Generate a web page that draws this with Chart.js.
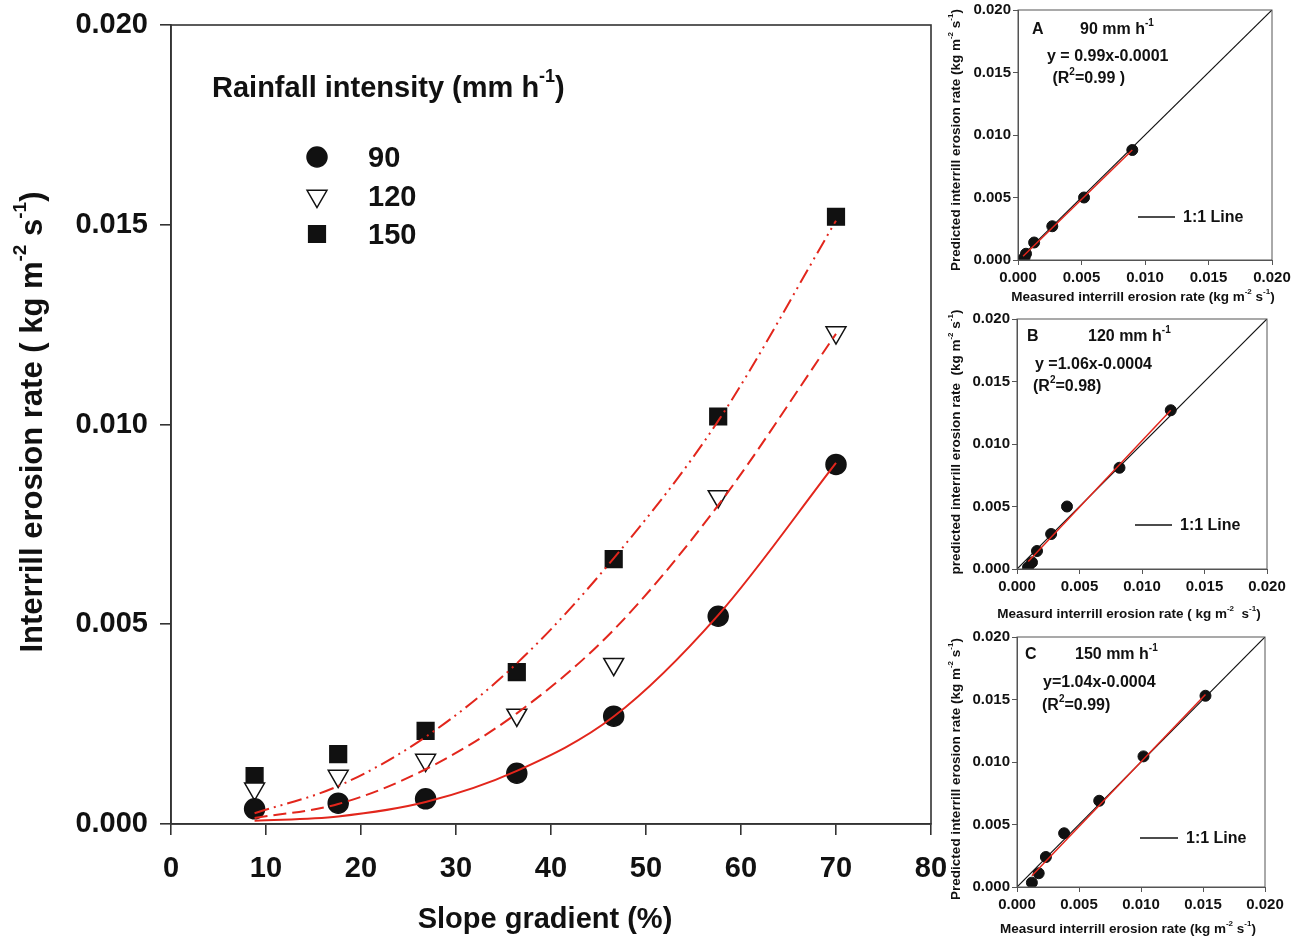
<!DOCTYPE html>
<html>
<head>
<meta charset="utf-8">
<title>Interrill erosion rate vs slope gradient</title>
<script src="https://cdn.jsdelivr.net/npm/chart.js@4.4.1/dist/chart.umd.min.js"></script>
<style>
    body { margin: 0; background: #fff; }
    #figure { position: relative; width: 1295px; height: 939px; overflow: hidden; background: #fff; }
    #figure canvas { position: absolute; }
</style>
</head>
<body>
<div id="figure">
    <canvas id="mainChart" width="950" height="939" style="left:0;top:0"></canvas>
    <canvas id="chartA" width="355" height="310" style="left:940px;top:0"></canvas>
    <canvas id="chartB" width="355" height="315" style="left:940px;top:310px"></canvas>
    <canvas id="chartC" width="355" height="314" style="left:940px;top:625px"></canvas>
</div>
<script>
// ------------------- Data -------------------
const slope = [8.8, 17.6, 26.8, 36.4, 46.6, 57.6, 70];

// measured interrill erosion rate (kg m-2 s-1)
const rate90 = [0.00038, 0.00052, 0.00063, 0.00127, 0.0027, 0.0052, 0.0090];
const rate120 = [0.00088, 0.0012, 0.0016, 0.00273, 0.0040, 0.0082, 0.0123];
const rate150 = [0.0012, 0.00175, 0.00233, 0.0038, 0.00663, 0.0102, 0.0152];

// fitted curves at the same slopes
const fit90 = [0.00008, 0.00019, 0.00055, 0.00133, 0.00269, 0.00523, 0.00904];
const fit120 = [0.00015, 0.0005, 0.00137, 0.00277, 0.00486, 0.00798, 0.01227];
const fit150 = [0.00027, 0.00095, 0.00218, 0.00402, 0.00665, 0.01009, 0.0151];

const slopeTicks = [0, 10, 20, 30, 40, 50, 60, 70, 80];
const rateTicks = [0, 0.005, 0.010, 0.015, 0.020];

// predicted vs measured (panels A, B, C)
const predicted90 = [0.00005, 0.0002, 0.0005, 0.0014, 0.0027, 0.0050, 0.0088];
const predicted120 = [0.00013, 0.00053, 0.00144, 0.0028, 0.0050, 0.0081, 0.0127];
const predicted150 = [0.00035, 0.0011, 0.0024, 0.0043, 0.0069, 0.01045, 0.0153];

const fitLineA = { x: [0.0004, 0.0090], y: [0.0003, 0.0088] };
const fitLineB = { x: [0.0009, 0.0123], y: [0.0006, 0.0127] };
const fitLineC = { x: [0.0012, 0.0152], y: [0.0009, 0.0154] };
const oneToOne = [0, 0.020];

const RED = '#e2261c';
const INK = '#111';
const FONT = 'Arial, "Liberation Sans", sans-serif';

// ------------------- Helpers -------------------
function toXY(xs, ys) {
    return xs.map((x, i) => ({ x: x, y: ys[i] }));
}

// "kg m^{-2}" -> text with superscripts
function richParts(str) {
    const parts = [];
    const re = /\^\{([^}]*)\}/g;
    let last = 0, m;
    while ((m = re.exec(str))) {
        if (m.index > last) parts.push({ t: str.slice(last, m.index), sup: false });
        parts.push({ t: m[1], sup: true });
        last = re.lastIndex;
    }
    if (last < str.length) parts.push({ t: str.slice(last), sup: false });
    return parts;
}

function drawRich(ctx, str, x, y, size, align, angle) {
    const parts = richParts(str);
    const base = `bold ${size}px ${FONT}`;
    const small = `bold ${Math.round(size * 0.62)}px ${FONT}`;
    ctx.save();
    ctx.translate(x, y);
    if (angle) ctx.rotate(angle);
    let w = 0;
    parts.forEach(p => {
        ctx.font = p.sup ? small : base;
        p.w = ctx.measureText(p.t).width;
        w += p.w;
    });
    let cx = align === 'center' ? -w / 2 : (align === 'right' ? -w : 0);
    ctx.textAlign = 'left';
    ctx.textBaseline = 'middle';
    ctx.fillStyle = INK;
    parts.forEach(p => {
        ctx.font = p.sup ? small : base;
        ctx.fillText(p.t, cx, p.sup ? -size * 0.4 : 0);
        cx += p.w;
    });
    ctx.restore();
}

const framePlugin = {
    id: 'frame',
    afterDatasetsDraw(chart, args, opts) {
        const a = chart.chartArea;
        const ctx = chart.ctx;
        ctx.save();
        ctx.strokeStyle = opts.color || '#333';
        ctx.lineWidth = opts.width || 1;
        ctx.strokeRect(a.left, a.top, a.right - a.left, a.bottom - a.top);
        ctx.restore();
    }
};

function axisOptions(min, max, ticks, fmt, size, tickLen, pad, color, lineW) {
    return {
        type: 'linear',
        min: min,
        max: max,
        afterBuildTicks: s => { s.ticks = ticks.map(v => ({ value: v })); },
        ticks: {
            callback: fmt,
            font: { family: FONT, size: size, weight: 'bold' },
            color: INK,
            padding: pad,
            autoSkip: false,
            maxRotation: 0
        },
        grid: { drawOnChartArea: false, drawTicks: true, tickLength: tickLen, color: color, lineWidth: lineW },
        border: { display: true, color: color, width: lineW }
    };
}

// ------------------- Main Chart -------------------
function initMainChart() {
    const ctx = document.getElementById('mainChart');
    const lineBase = { showLine: true, borderColor: RED, borderWidth: 2, pointRadius: 0,
        cubicInterpolationMode: 'monotone', fill: false, order: 0 };
    const pointBase = { showLine: false, borderColor: INK, borderWidth: 1.5, order: 1 };

    const xAxis = axisOptions(0, 80, slopeTicks, v => String(v), 29, 11, 17, '#333', 1.6);
    xAxis.afterFit = s => { s.height = 115; s.paddingLeft = 0; s.paddingRight = 0; };
    const yAxis = axisOptions(0, 0.02, rateTicks, v => v.toFixed(3), 29, 11, 12, '#333', 1.6);
    yAxis.afterFit = s => { s.width = 171; s.paddingTop = 0; s.paddingBottom = 0; };

    const mainText = {
        id: 'mainText',
        afterDraw(chart) {
            const c = chart.ctx;
            drawRich(c, 'Slope gradient (%)', 545, 920, 29, 'center');
            drawRich(c, 'Interrill erosion rate ( kg m^{-2} s^{-1})', 33, 422, 31, 'center', -Math.PI / 2);
            drawRich(c, 'Rainfall intensity (mm h^{-1})', 212, 89, 29, 'left');

            const rows = [157, 196, 234];
            [3, 4, 5].forEach((di, i) => {
                const ds = chart.data.datasets[di];
                c.save();
                c.fillStyle = ds.backgroundColor;
                c.strokeStyle = ds.borderColor;
                c.lineWidth = ds.borderWidth;
                Chart.helpers.drawPoint(c, {
                    pointStyle: ds.pointStyle, rotation: ds.rotation || 0,
                    radius: ds.pointRadius, borderWidth: ds.borderWidth
                }, 317, rows[i]);
                c.restore();
                drawRich(c, ds.label, 368, rows[i] + 2, 29, 'left');
            });
        }
    };

    new Chart(ctx.getContext('2d'), {
        type: 'scatter',
        data: {
            datasets: [
                { ...lineBase, label: 'fit 90', data: toXY(slope, fit90) },
                { ...lineBase, label: 'fit 120', data: toXY(slope, fit120), borderDash: [13, 6] },
                { ...lineBase, label: 'fit 150', data: toXY(slope, fit150), borderDash: [15, 5, 2, 5, 2, 5] },
                { ...pointBase, label: '90', data: toXY(slope, rate90), pointStyle: 'circle',
                    pointRadius: 10, backgroundColor: INK },
                { ...pointBase, label: '120', data: toXY(slope, rate120), pointStyle: 'triangle',
                    rotation: 180, pointRadius: 11.5, backgroundColor: '#fff' },
                { ...pointBase, label: '150', data: toXY(slope, rate150), pointStyle: 'rect',
                    pointRadius: 11.8, backgroundColor: INK }
            ]
        },
        options: {
            responsive: false,
            animation: false,
            layout: { padding: { top: 25, right: 19, left: 0, bottom: 0 } },
            plugins: { legend: { display: false }, tooltip: { enabled: false }, frame: { color: '#333', width: 1.6 } },
            scales: { x: xAxis, y: yAxis }
        },
        plugins: [framePlugin, mainText]
    });
}

// ------------------- Predicted vs Measured Panels -------------------
function initPanel(id, cfg) {
    const ctx = document.getElementById(id);
    const xAxis = axisOptions(0, 0.02, rateTicks, v => v.toFixed(3), 15, 5, 4, '#555', 1);
    xAxis.afterFit = s => { s.height = cfg.xHeight; s.paddingLeft = 0; s.paddingRight = 0; };
    const yAxis = axisOptions(0, 0.02, rateTicks, v => v.toFixed(3), 15, 5, 2, '#555', 1);
    yAxis.afterFit = s => { s.width = cfg.yWidth; s.paddingTop = 0; s.paddingBottom = 0; };

    const panelText = {
        id: 'panelText',
        afterDraw(chart) {
            const c = chart.ctx;
            drawRich(c, cfg.xTitle, cfg.xTitlePos[0], cfg.xTitlePos[1], 13.5, 'center');
            drawRich(c, cfg.yTitle, 16, cfg.yTitleY, 13.5, 'center', -Math.PI / 2);
            cfg.notes.forEach(n => drawRich(c, n[0], n[1], n[2], 16, 'left'));
            // 1:1 line key
            c.save();
            c.strokeStyle = INK;
            c.lineWidth = 1.5;
            c.beginPath();
            c.moveTo(cfg.key[0], cfg.key[2]);
            c.lineTo(cfg.key[1], cfg.key[2]);
            c.stroke();
            c.restore();
            drawRich(c, '1:1 Line', cfg.key[1] + 8, cfg.key[2] + 1, 16, 'left');
        }
    };

    new Chart(ctx.getContext('2d'), {
        type: 'scatter',
        data: {
            datasets: [
                { label: 'Fit', data: toXY(cfg.fit.x, cfg.fit.y), showLine: true, borderColor: RED,
                    borderWidth: 1.5, pointRadius: 0, order: 0 },
                { label: 'Rate', data: toXY(cfg.measured, cfg.predicted), backgroundColor: INK,
                    borderColor: INK, pointRadius: 5.5, order: 1 },
                { label: '1:1 Line', data: toXY(oneToOne, oneToOne), showLine: true, borderColor: INK,
                    borderWidth: 1.2, pointRadius: 0, order: 2 }
            ]
        },
        options: {
            responsive: false,
            animation: false,
            layout: { padding: { top: cfg.top, right: cfg.right, left: 0, bottom: 0 } },
            plugins: { legend: { display: false }, tooltip: { enabled: false }, frame: { color: '#555', width: 1 } },
            scales: { x: xAxis, y: yAxis }
        },
        plugins: [framePlugin, panelText]
    });
}

// ------------------- Initialize -------------------
document.addEventListener('DOMContentLoaded', () => {
    initMainChart();

    initPanel('chartA', {
        measured: rate90, predicted: predicted90, fit: fitLineA,
        top: 10, right: 23, yWidth: 78, xHeight: 50,
        xTitle: 'Measured interrill erosion rate (kg m^{-2} s^{-1})', xTitlePos: [203, 297],
        yTitle: 'Predicted interrill erosion rate (kg m^{-2} s^{-1})', yTitleY: 140,
        notes: [['A', 92, 30], ['90 mm h^{-1}', 140, 30], ['y = 0.99x-0.0001', 107, 57], [' (R^{2}=0.99 )', 108, 79]],
        key: [198, 235, 217]
    });

    initPanel('chartB', {
        measured: rate120, predicted: predicted120, fit: fitLineB,
        top: 9, right: 28, yWidth: 77, xHeight: 56,
        xTitle: 'Measurd interrill erosion rate ( kg m^{-2}  s^{-1})', xTitlePos: [189, 304],
        yTitle: 'predicted interrill erosion rate  (kg m^{-2} s^{-1})', yTitleY: 132,
        notes: [['B', 87, 27], ['120 mm h^{-1}', 148, 27], ['y =1.06x-0.0004', 95, 55], ['(R^{2}=0.98)', 93, 77]],
        key: [195, 232, 215]
    });

    initPanel('chartC', {
        measured: rate150, predicted: predicted150, fit: fitLineC,
        top: 12, right: 30, yWidth: 77, xHeight: 52,
        xTitle: 'Measurd interrill erosion rate (kg m^{-2} s^{-1})', xTitlePos: [188, 304],
        yTitle: 'Predicted interrill erosion rate (kg m^{-2} s^{-1})', yTitleY: 144,
        notes: [['C', 85, 30], ['150 mm h^{-1}', 135, 30], ['y=1.04x-0.0004', 103, 58], ['(R^{2}=0.99)', 102, 81]],
        key: [200, 238, 213]
    });
});
</script>
</body>
</html>
